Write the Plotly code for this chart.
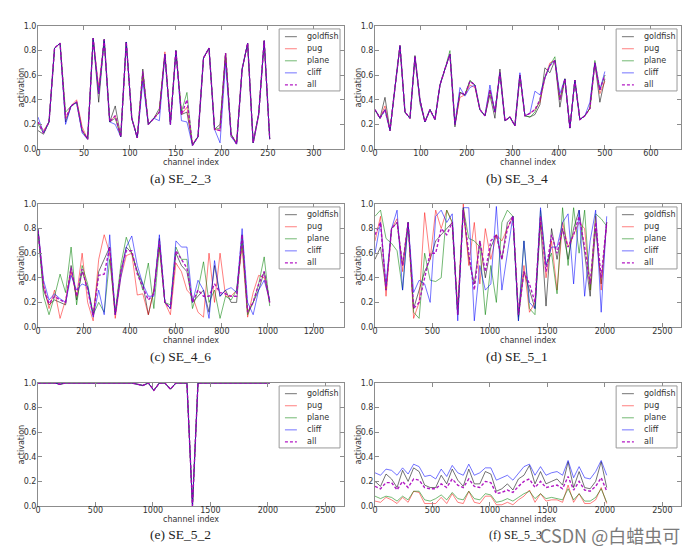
import numpy as np
import plotly.graph_objects as go

# ---------------- data ----------------
series_names = ["goldfish", "pug", "plane", "cliff", "all"]
captions = ["(a) SE_2_3", "(b) SE_3_4", "(c) SE_4_6", "(d) SE_5_1", "(e) SE_5_2", "(f) SE_5_3"]
x_max = [332.8, 665.6, 1331.2, 2662.4, 2662.4, 2662.4]
x_dtick = [50, 100, 200, 500, 500, 500]

ch_a = list(range(0, 253, 6))
ch_b = list(np.linspace(0, 500, 47))
ch_c = list(range(0, 1009, 24))
ch_d = list(range(0, 2017, 48))

gold_a = [0.15,0.12,0.22,0.82,0.86,0.22,0.35,0.38,0.15,0.08,0.90,0.38,0.89,0.22,0.35,0.10,0.87,0.25,0.09,0.65,0.20,0.25,0.33,0.77,0.20,0.80,0.28,0.30,0.03,0.10,0.74,0.82,0.16,0.20,0.78,0.12,0.04,0.65,0.86,0.05,0.28,0.88,0.08]
pug_a = [0.22,0.15,0.22,0.82,0.86,0.25,0.35,0.40,0.18,0.08,0.90,0.50,0.89,0.22,0.27,0.10,0.87,0.25,0.09,0.60,0.20,0.25,0.30,0.79,0.22,0.80,0.28,0.34,0.04,0.10,0.74,0.82,0.16,0.15,0.78,0.10,0.06,0.65,0.86,0.05,0.28,0.88,0.08]
plane_a = [0.20,0.13,0.22,0.82,0.86,0.30,0.35,0.38,0.15,0.08,0.90,0.45,0.89,0.22,0.25,0.10,0.87,0.25,0.09,0.62,0.20,0.25,0.30,0.77,0.20,0.80,0.30,0.46,0.03,0.10,0.74,0.82,0.16,0.17,0.78,0.12,0.04,0.65,0.86,0.05,0.28,0.88,0.08]
cliff_a = [0.26,0.13,0.22,0.82,0.86,0.20,0.35,0.38,0.13,0.08,0.90,0.45,0.89,0.22,0.20,0.10,0.87,0.25,0.09,0.55,0.20,0.25,0.23,0.77,0.20,0.80,0.23,0.22,0.03,0.10,0.74,0.82,0.16,0.05,0.70,0.10,0.04,0.65,0.86,0.05,0.28,0.88,0.08]
all_a = [0.22,0.13,0.22,0.82,0.86,0.25,0.35,0.38,0.15,0.08,0.90,0.45,0.89,0.22,0.27,0.10,0.87,0.25,0.09,0.63,0.20,0.25,0.30,0.77,0.20,0.80,0.28,0.40,0.03,0.10,0.74,0.82,0.16,0.15,0.78,0.12,0.04,0.65,0.86,0.05,0.28,0.88,0.08]

gold_b = [0.32,0.25,0.42,0.15,0.50,0.84,0.30,0.25,0.76,0.37,0.22,0.32,0.24,0.52,0.65,0.77,0.18,0.46,0.44,0.55,0.52,0.32,0.27,0.44,0.25,0.65,0.23,0.26,0.19,0.60,0.27,0.26,0.28,0.36,0.66,0.62,0.72,0.34,0.57,0.17,0.56,0.24,0.27,0.33,0.70,0.38,0.57]
pug_b = [0.32,0.25,0.35,0.15,0.50,0.84,0.30,0.25,0.75,0.40,0.22,0.32,0.24,0.52,0.65,0.77,0.20,0.42,0.44,0.52,0.50,0.32,0.27,0.48,0.30,0.62,0.23,0.26,0.19,0.60,0.27,0.29,0.32,0.38,0.58,0.70,0.72,0.40,0.57,0.17,0.56,0.24,0.27,0.33,0.70,0.45,0.55]
plane_b = [0.32,0.25,0.32,0.15,0.50,0.84,0.30,0.25,0.75,0.40,0.22,0.32,0.24,0.52,0.65,0.80,0.20,0.46,0.44,0.56,0.52,0.32,0.27,0.48,0.30,0.62,0.23,0.26,0.19,0.60,0.27,0.26,0.30,0.40,0.58,0.68,0.75,0.40,0.57,0.17,0.56,0.24,0.27,0.33,0.72,0.48,0.60]
cliff_b = [0.32,0.25,0.32,0.15,0.50,0.84,0.30,0.25,0.75,0.40,0.22,0.32,0.24,0.52,0.65,0.77,0.20,0.50,0.43,0.50,0.52,0.32,0.27,0.52,0.30,0.62,0.23,0.26,0.19,0.62,0.27,0.29,0.47,0.44,0.58,0.68,0.72,0.45,0.57,0.17,0.56,0.24,0.27,0.38,0.70,0.48,0.63]
all_b = [0.32,0.25,0.32,0.15,0.50,0.84,0.30,0.25,0.75,0.40,0.22,0.32,0.24,0.52,0.65,0.77,0.20,0.46,0.44,0.55,0.52,0.32,0.27,0.48,0.30,0.62,0.23,0.26,0.19,0.60,0.27,0.29,0.32,0.40,0.58,0.68,0.72,0.40,0.57,0.17,0.56,0.24,0.27,0.33,0.70,0.48,0.60]

gold_c = [0.78,0.30,0.18,0.22,0.20,0.18,0.50,0.22,0.45,0.32,0.10,0.45,0.55,0.65,0.10,0.45,0.65,0.60,0.45,0.35,0.10,0.30,0.72,0.20,0.15,0.60,0.50,0.45,0.20,0.25,0.30,0.12,0.50,0.25,0.30,0.20,0.20,0.75,0.12,0.20,0.30,0.45,0.20]
pug_c = [0.80,0.35,0.15,0.30,0.07,0.22,0.45,0.25,0.60,0.20,0.05,0.55,0.75,0.60,0.07,0.40,0.58,0.60,0.26,0.27,0.10,0.30,0.65,0.20,0.10,0.52,0.45,0.30,0.25,0.12,0.08,0.60,0.20,0.60,0.25,0.25,0.30,0.65,0.08,0.28,0.42,0.40,0.20]
plane_c = [0.80,0.25,0.10,0.25,0.43,0.28,0.65,0.18,0.50,0.35,0.10,0.20,0.12,0.55,0.12,0.50,0.73,0.60,0.45,0.30,0.52,0.15,0.65,0.20,0.18,0.65,0.55,0.55,0.15,0.30,0.53,0.20,0.30,0.07,0.25,0.22,0.30,0.70,0.10,0.20,0.35,0.57,0.17]
cliff_c = [0.80,0.38,0.22,0.27,0.23,0.20,0.42,0.30,0.35,0.33,0.08,0.30,0.10,0.75,0.10,0.40,0.65,0.74,0.50,0.35,0.25,0.25,0.75,0.20,0.15,0.70,0.65,0.65,0.20,0.38,0.30,0.07,0.54,0.25,0.30,0.32,0.28,0.80,0.20,0.10,0.30,0.38,0.22]
all_c = [0.78,0.33,0.19,0.25,0.22,0.20,0.48,0.25,0.47,0.30,0.09,0.42,0.43,0.65,0.10,0.45,0.62,0.62,0.43,0.32,0.22,0.27,0.70,0.20,0.15,0.62,0.55,0.48,0.20,0.30,0.25,0.25,0.35,0.28,0.27,0.25,0.25,0.75,0.12,0.20,0.35,0.45,0.20]

gold_d = [0.55,0.65,0.30,0.80,0.85,0.50,0.85,0.15,0.30,0.45,0.55,0.70,0.75,0.80,0.85,0.10,0.95,0.55,0.35,0.70,0.40,0.65,0.75,0.55,0.85,0.90,0.08,0.45,0.30,0.15,0.85,0.17,0.80,0.55,0.80,0.55,0.80,0.95,0.60,0.25,0.80,0.35,0.85]
pug_d = [0.70,0.90,0.25,0.80,0.88,0.45,0.85,0.07,0.20,0.93,0.55,0.95,0.80,0.95,0.85,0.15,1.00,0.50,0.85,0.35,0.80,0.55,0.75,0.70,0.80,0.90,0.10,0.50,0.12,0.20,0.90,0.40,0.70,0.30,0.85,0.65,0.75,0.85,0.80,0.30,0.90,0.30,0.85]
plane_d = [0.90,0.95,0.72,0.68,0.62,0.30,0.85,0.12,0.07,0.60,0.38,0.37,0.40,0.95,0.85,0.10,0.97,0.72,0.70,0.65,0.10,0.50,0.20,0.85,0.95,0.90,0.05,0.70,0.15,0.10,0.95,0.50,0.60,0.27,0.97,0.50,0.97,0.60,0.95,0.30,0.92,0.88,0.82]
cliff_d = [0.60,0.85,0.35,0.80,0.95,0.30,0.85,0.28,0.38,0.35,0.20,0.90,0.95,0.85,0.92,0.05,0.97,0.97,0.05,0.50,0.30,0.35,0.98,0.30,0.60,0.90,0.05,0.70,0.20,0.15,0.97,0.50,0.65,0.65,0.85,0.92,0.35,0.95,0.25,0.70,0.95,0.12,0.90]
all_d = [0.75,0.85,0.30,0.80,0.85,0.50,0.85,0.15,0.20,0.40,0.60,0.60,0.80,0.75,0.85,0.10,0.95,0.60,0.30,0.70,0.45,0.70,0.75,0.55,0.80,0.90,0.10,0.45,0.35,0.20,0.90,0.45,0.75,0.60,0.80,0.65,0.75,0.90,0.65,0.35,0.85,0.40,0.85]

vals_e = [1.00,1.00,1.00,1.00,0.99,1.00,1.00,1.00,1.00,1.00,1.00,1.00,1.00,1.00,1.00,1.00,1.00,1.00,0.99,0.98,1.00,0.94,1.00,1.00,0.95,1.00,1.00,1.00,0.00,1.00,1.00,1.00,1.00,1.00,1.00,1.00,1.00,1.00,1.00,1.00,1.00,1.00,1.00]

gold_f = [0.20,0.16,0.26,0.22,0.15,0.29,0.20,0.31,0.28,0.17,0.15,0.15,0.25,0.18,0.30,0.21,0.16,0.30,0.18,0.18,0.28,0.26,0.12,0.14,0.18,0.13,0.22,0.25,0.33,0.18,0.28,0.18,0.20,0.22,0.17,0.36,0.15,0.28,0.15,0.14,0.20,0.36,0.15]
pug_f = [0.04,0.03,0.07,0.05,0.02,0.07,0.03,0.12,0.11,0.02,0.02,0.02,0.07,0.02,0.10,0.03,0.02,0.12,0.03,0.02,0.08,0.08,0.01,0.01,0.03,0.01,0.05,0.08,0.13,0.03,0.10,0.04,0.05,0.05,0.03,0.17,0.03,0.10,0.02,0.02,0.05,0.15,0.02]
plane_f = [0.08,0.06,0.08,0.07,0.04,0.08,0.05,0.12,0.12,0.05,0.04,0.06,0.09,0.05,0.11,0.06,0.05,0.12,0.06,0.05,0.10,0.09,0.03,0.04,0.06,0.04,0.07,0.10,0.12,0.06,0.10,0.06,0.07,0.06,0.05,0.14,0.05,0.10,0.04,0.04,0.07,0.14,0.03]
cliff_f = [0.27,0.25,0.30,0.29,0.25,0.31,0.26,0.34,0.32,0.24,0.25,0.22,0.30,0.24,0.33,0.27,0.25,0.34,0.25,0.27,0.31,0.31,0.21,0.23,0.25,0.21,0.27,0.32,0.34,0.25,0.32,0.25,0.27,0.28,0.25,0.37,0.23,0.32,0.23,0.22,0.28,0.37,0.25]
all_f = [0.16,0.14,0.19,0.19,0.13,0.20,0.15,0.22,0.21,0.15,0.14,0.14,0.18,0.15,0.22,0.17,0.15,0.22,0.16,0.15,0.20,0.19,0.10,0.11,0.13,0.11,0.16,0.20,0.22,0.15,0.20,0.15,0.16,0.17,0.14,0.24,0.13,0.20,0.13,0.12,0.16,0.23,0.12]

panels = [
    (ch_a, [gold_a, pug_a, plane_a, cliff_a, all_a]),
    (ch_b, [gold_b, pug_b, plane_b, cliff_b, all_b]),
    (ch_c, [gold_c, pug_c, plane_c, cliff_c, all_c]),
    (ch_d, [gold_d, pug_d, plane_d, cliff_d, all_d]),
    (ch_d, [vals_e, vals_e, vals_e, vals_e, vals_e]),
    (ch_d, [gold_f, pug_f, plane_f, cliff_f, all_f]),
]

# ---------------- style ----------------
colors = ["rgba(0,0,0,0.55)", "rgba(255,0,0,0.5)", "rgba(0,128,0,0.55)",
          "rgba(0,0,255,0.55)", "rgba(170,0,190,0.9)"]
dashes = ["solid", "solid", "solid", "solid", "3px,2px"]
widths = [1.0, 1.0, 1.0, 1.0, 1.4]

W, H = 700, 551
OFF = 8  # the page body has an 8 px default margin; place things in page pixels


def px(v):
    return (v - OFF) / W


def py(v):
    return 1 - (v - OFF) / H


xdoms = [[px(38), px(344)], [px(375), px(681)]]
ydoms = [[py(149), py(26)], [py(327), py(204)], [py(506), py(383)]]
cap_x = [px(180), px(517)]
cap_y = [py(178.5), py(356), py(534.5)]

FS = 8
tick_font = dict(family="DejaVu Sans", size=FS, color="#333")
frame = "#8c8c8c"

fig = go.Figure()
shapes = []
annotations = []

for p, (xs, ys_list) in enumerate(panels):
    r, c = divmod(p, 2)
    n = p + 1
    xa = "x" if n == 1 else f"x{n}"
    ya = "y" if n == 1 else f"y{n}"
    for s, ys in enumerate(ys_list):
        fig.add_trace(go.Scatter(
            x=xs, y=ys, mode="lines", name=series_names[s], showlegend=False,
            line=dict(color=colors[s], width=widths[s], dash=dashes[s]),
            xaxis=xa, yaxis=ya))
    xkey = "xaxis" if n == 1 else f"xaxis{n}"
    ykey = "yaxis" if n == 1 else f"yaxis{n}"
    fig.layout[xkey] = dict(
        domain=xdoms[c], anchor=ya, range=[0, x_max[p]], dtick=x_dtick[p], tick0=0,
        showline=True, linecolor=frame, linewidth=1, mirror="ticks",
        ticks="inside", ticklen=4, tickcolor=frame, showgrid=False, zeroline=False,
        tickfont=tick_font, automargin=False, ticklabelstandoff=-4)
    fig.layout[ykey] = dict(
        domain=ydoms[r], anchor=xa, range=[0, 1], dtick=0.2, tick0=0, tickformat=".1f",
        showline=True, linecolor=frame, linewidth=1, mirror="ticks",
        ticks="inside", ticklen=4, tickcolor=frame, showgrid=False, zeroline=False,
        tickfont=tick_font, automargin=False, ticklabelstandoff=-1)

    xr = f"{xa} domain"
    yr = f"{ya} domain"
    # axis titles
    annotations.append(dict(xref=xr, yref=yr, x=0.5, y=0, yshift=-13, text="channel index",
                            showarrow=False, xanchor="center", yanchor="middle",
                            font=dict(family="DejaVu Sans", size=FS, color="#333")))
    annotations.append(dict(xref=xr, yref=yr, x=0, y=0.5, xshift=-17, text="activation",
                            textangle=-90, showarrow=False, xanchor="center", yanchor="middle",
                            font=dict(family="DejaVu Sans", size=FS, color="#333")))

    # legend box (drawn above traces)
    shapes.append(dict(type="rect", xref=xr, yref=yr, x0=0.788, x1=0.987, y0=0.472, y1=0.976,
                       line=dict(color="#999", width=1), fillcolor="white", layer="above"))
    row_y = [0.913, 0.815, 0.717, 0.619, 0.521]
    for s in range(5):
        shapes.append(dict(type="line", xref=xr, yref=yr, x0=0.807, x1=0.846, y0=row_y[s], y1=row_y[s],
                           line=dict(color=colors[s], width=widths[s], dash=dashes[s]),
                           layer="above"))
        annotations.append(dict(xref=xr, yref=yr, x=0.874, y=row_y[s], text=series_names[s],
                                showarrow=False, xanchor="left", yanchor="middle",
                                font=dict(family="DejaVu Sans", size=FS, color="#333")))
    annotations.append(dict(xref="paper", yref="paper", x=cap_x[c] - (0.002 if p == 5 else 0),
                            y=cap_y[r], text=captions[p],
                            showarrow=False, xanchor="center", yanchor="middle",
                            font=dict(family="Liberation Serif", size=12 if p == 5 else 13.5,
                                      color="#222")))

annotations.append(dict(xref="paper", yref="paper", x=px(682), y=cap_y[2], text="CSDN @白蜡虫可",
                        showarrow=False, xanchor="right", yanchor="middle",
                        font=dict(family="Noto Sans CJK SC", size=18, color="#7a7a7a")))

fig.update_layout(width=W, height=H, margin=dict(l=0, r=0, t=0, b=0),
                  paper_bgcolor="white", plot_bgcolor="white",
                  shapes=shapes, annotations=annotations, showlegend=False)

fig.write_html("out.html")
